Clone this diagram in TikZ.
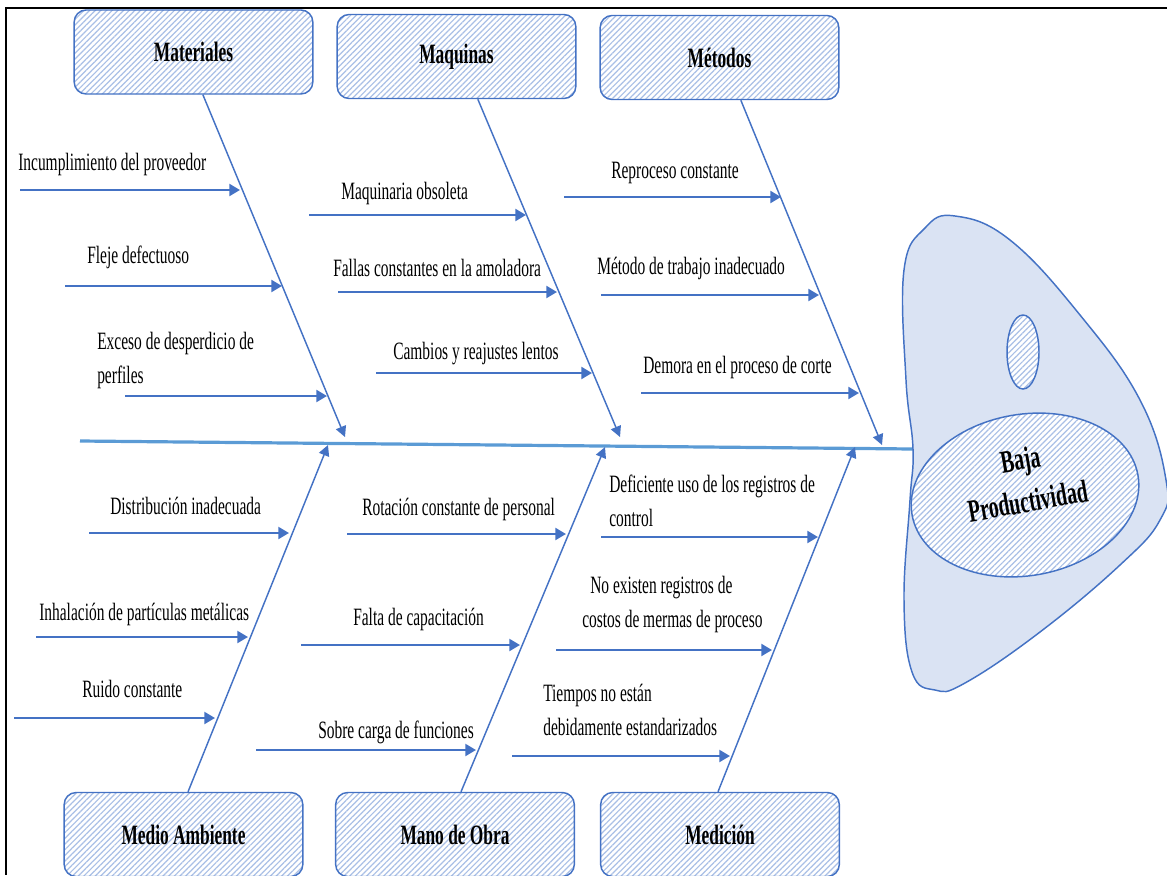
\documentclass[tikz,border=0pt]{standalone}
\usepackage{fontspec}
\setmainfont{Liberation Serif}[FakeStretch=0.62]
\usetikzlibrary{arrows.meta,patterns.meta,shapes.geometric}

\definecolor{bord}{HTML}{4472C4}
\definecolor{spinec}{HTML}{5B9BD5}
\definecolor{hatch}{HTML}{A9BFE6}
\definecolor{headfill}{HTML}{DAE3F3}

\tikzset{
  hatched/.style={preaction={fill=white}, pattern={Lines[angle=45,distance=3pt,line width=0.9pt]}, pattern color=hatch},
  catbox/.style={draw=bord, line width=1.1pt, rounded corners=9pt, minimum width=179pt, minimum height=63pt, hatched, font=\fontsize{21}{24}\selectfont\bfseries},
  bone/.style={bord, line width=1.1pt, -{Triangle[length=8pt,width=8pt]}},
  cause/.style={bord, line width=1.6pt, -{Triangle[length=8pt,width=9pt]}},
  causetext/.style={anchor=base west, inner sep=0pt, align=left, font=\fontsize{18.7}{25}\selectfont},
  spine/.style={spinec, line width=2.4pt},
  frame/.style={black, line width=1.5pt},
}

\begin{document}
\begin{tikzpicture}[x=0.75pt, y=-0.75pt]
\useasboundingbox (0,0) rectangle (1167,875);
\draw[frame] (1167,8) -- (6,8) -- (6,875);

\node[catbox] (materiales) at (193.5,52) {Materiales};
\node[catbox] (maquinas) at (456.5,56.5) {Maquinas};
\node[catbox] (metodos) at (719.5,57.5) {Métodos};
\node[catbox] (ambiente) at (183.5,834.5) {Medio Ambiente};
\node[catbox] (manoobra) at (455,834.5) {Mano de Obra};
\node[catbox] (medicion) at (720,834.5) {Medición};

\coordinate (tail) at (80,441);
\coordinate (nose) at (913,449);
\draw[spine] (tail) -- (nose);

\coordinate (t1) at (345,437);
\coordinate (t2) at (620,437);
\coordinate (t3) at (882,445);
\coordinate (t4) at (328,445);
\coordinate (t5) at (605,447);
\coordinate (t6) at (855,447);
\draw[bone] ([xshift=7pt]materiales.south) -- (t1);
\draw[bone] ([xshift=16pt]maquinas.south) -- (t2);
\draw[bone] ([xshift=16pt]metodos.south) -- (t3);
\draw[bone] ([xshift=3.4pt]ambiente.north) -- (t4);
\draw[bone] ([xshift=4.5pt]manoobra.north) -- (t5);
\draw[bone] ([xshift=-1.5pt]medicion.north) -- (t6);

\foreach \n/\tx/\ty/\xs/\xe/\ya/\txt in {
  1/18/170/20/240/190/{Incumplimiento del proveedor},
  2/87/263/65/282/286/{Fleje defectuoso},
  3/97/383/125/327/396/{Exceso de desperdicio de\\perfiles},
  4/341/199/309/526/215/{Maquinaria obsoleta},
  5/333/276/338/557/292/{Fallas constantes en la amoladora},
  6/393/359/376/592/373/{Cambios y reajustes lentos},
  7/611/178/564/781/197/{Reproceso constante},
  8/597/274/601/819/295/{Método de trabajo inadecuado},
  9/643/373/641/859/393/{Demora en el proceso de corte},
  10/110/514/89/289/533/{Distribución inadecuada},
  11/39/620/36/248/637/{Inhalación de partículas metálicas},
  12/82/697/14/215/718/{Ruido constante},
  13/362/515/347/566/534/{Rotación constante de personal},
  14/353/625/301/520/645/{Falta de capacitación},
  15/318/738/256/476/750/{Sobre carga de funciones},
  16/609/526/601/818/537/{Deficiente uso de los registros de\\control},
  17/582/627/556/772/650/{\hspace*{6pt}No existen registros de\\costos de mermas de proceso},
  18/543/735/512/730/756/{Tiempos no están\\debidamente estandarizados}} {
  \node[causetext] (c\n) at (\tx,\ty) {\txt};
  \coordinate (s\n) at (\xs,\ya);
  \coordinate (e\n) at (\xe,\ya);
  \draw[cause] (s\n) -- (e\n);
}

\draw[bord, line width=1.1pt, fill=headfill] plot[smooth cycle, tension=0.7] coordinates {
  (904,270) (925,228) (955,216) (1010,240) (1080,315) (1140,400) (1166,480)
  (1160,520) (1120,565) (1040,632) (965,683) (935,690) (912,672) (904,600)
  (910,500) (913,449) (906,380)};
\node[ellipse, draw=bord, line width=1.1pt, hatched, minimum width=24pt, minimum height=55.5pt] (eye) at (1023,352) {};
\node[ellipse, draw=bord, line width=1.1pt, hatched, minimum width=172pt, minimum height=121pt, rotate=10] (effect) at (1025,495) {};
\node[align=center, rotate=10, inner sep=0pt, font=\fontsize{24}{32}\selectfont\bfseries] (effecttxt) at (1024,480) {Baja\\Productividad};
\end{tikzpicture}
\end{document}
